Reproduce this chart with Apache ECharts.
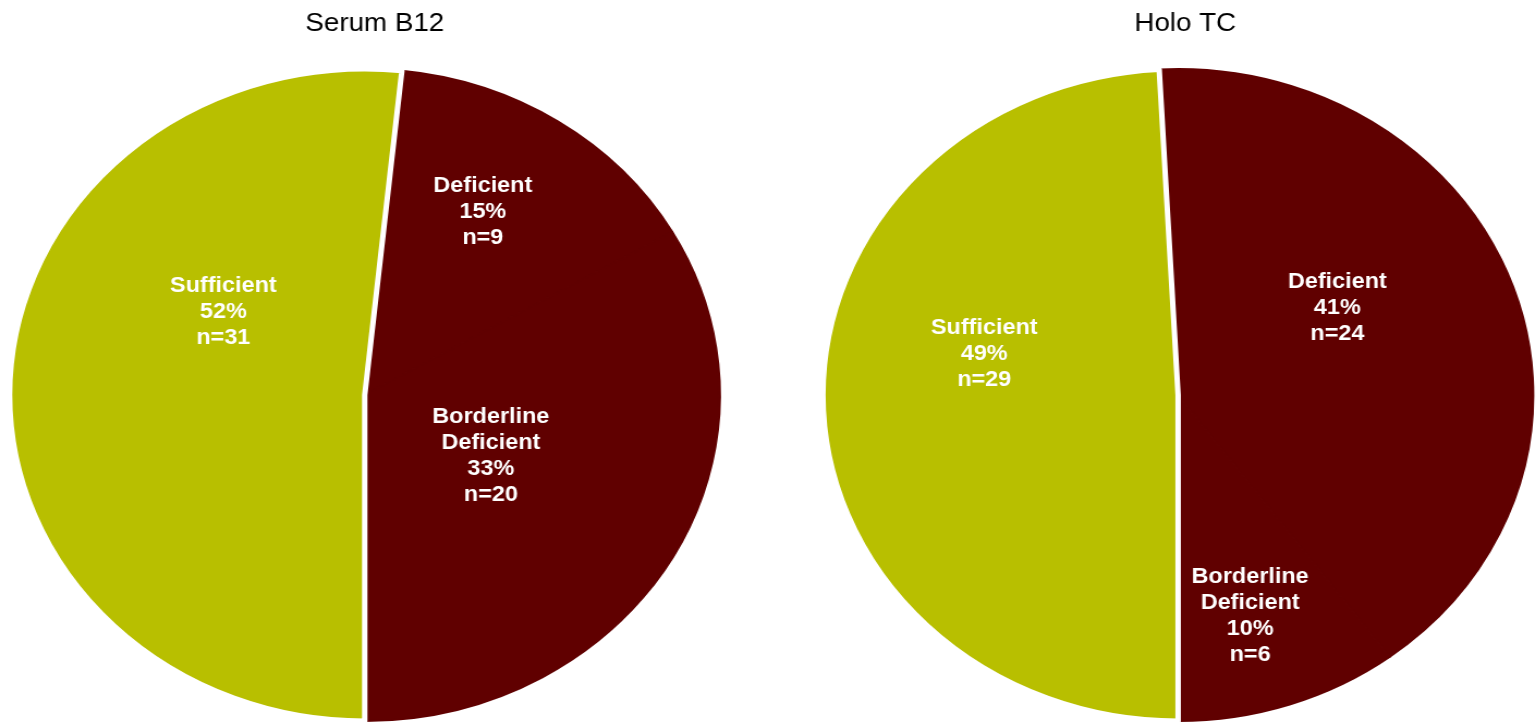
<!DOCTYPE html>
<html>
<head>
<meta charset="utf-8">
<script src="https://cdn.jsdelivr.net/npm/echarts@6/dist/echarts.min.js"></script>
<style>
  html, body { margin: 0; padding: 0; background: #ffffff; overflow: hidden; }
  #wrap { width: 1536px; height: 722px; position: relative; overflow: hidden; }
  #chart { width: 1410px; height: 722px; transform: scaleX(1.0894); transform-origin: 0 0; }
</style>
</head>
<body>
<div id="wrap"><div id="chart"></div></div>
<script>
// ---- data ----
const titles = ['Serum B12', 'Holo TC'];
const categories = ['Deficient', 'Borderline\nDeficient', 'Sufficient'];
const serumB12 = [9, 20, 31];
const holoTC = [24, 6, 29];

// ---- style ----
const colors = ['#600000', '#600000', '#B8BF00'];
const centersX = [334.8, 1081.4];
const titleX = [339, 1083];
const centerY = 395;
const radius = 326;
// label nudges (style only)
const labelShift = [
  [[18, -44], [-28, -22], [36, -74]],
  [[-10, -31], [14, 63], [-12, -45]]
];

const chart = echarts.init(document.getElementById('chart'), null, { renderer: 'canvas' });

function makeSeries(values, si) {
  const total = values.reduce((a, b) => a + b, 0);
  const deficientShare = (values[0] + values[1]) / total * 360;
  // boundary between the deficient group and "Sufficient" sits at 6 o'clock
  const startAngle = 90 - (180 - deficientShare);
  return {
    type: 'pie',
    silent: true,
    animation: false,
    center: [centersX[si], centerY],
    radius: [0, radius],
    startAngle: startAngle,
    clockwise: true,
    percentPrecision: 0,
    avoidLabelOverlap: false,
    label: {
      show: true,
      position: 'inside',
      formatter: '{b}\n{d}%\nn={c}',
      color: '#ffffff',
      fontFamily: 'Liberation Sans, Arial, sans-serif',
      fontWeight: 'bold',
      fontSize: 21.5,
      lineHeight: 26,
      align: 'center'
    },
    labelLine: { show: false },
    labelLayout: function (p) {
      const s = labelShift[si][p.dataIndex];
      return { dx: s[0], dy: s[1] };
    },
    data: values.map((v, i) => ({
      name: categories[i],
      value: v,
      itemStyle: {
        color: colors[i],
        borderColor: i === 2 ? '#ffffff' : colors[i],
        borderWidth: i === 2 ? 5 : 2
      }
    }))
  };
}

chart.setOption({
  animation: false,
  title: titles.map((t, i) => ({
    text: t,
    left: titleX[i],
    top: 6,
    textAlign: 'center',
    textStyle: {
      fontFamily: 'Liberation Sans, Arial, sans-serif',
      fontWeight: 'normal',
      fontSize: 25.5,
      color: '#000000'
    }
  })),
  series: [makeSeries(serumB12, 0), makeSeries(holoTC, 1)]
});
</script>
</body>
</html>
